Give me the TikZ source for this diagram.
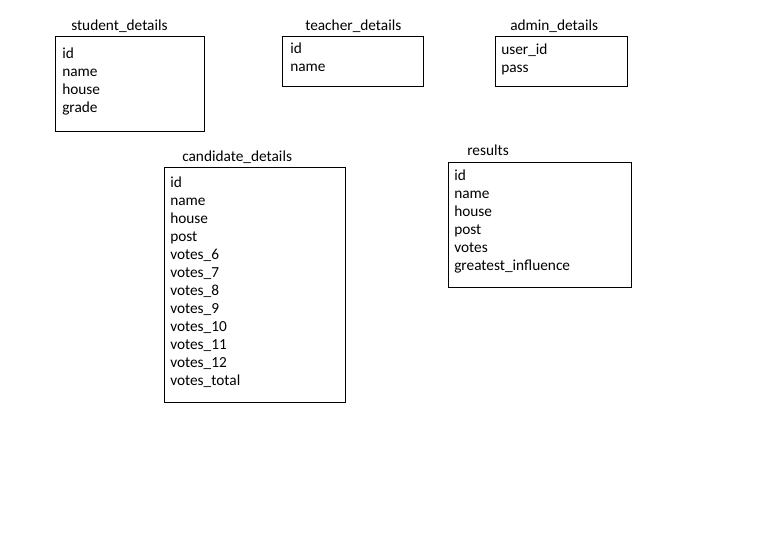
\documentclass[tikz,border=0pt]{standalone}
\usepackage{fontspec}
\setmainfont{Carlito}
\begin{document}
\begin{tikzpicture}[x=0.75pt,y=-0.75pt,
  tablebox/.style={draw=black,line width=0.8pt,rectangle,anchor=north west,inner sep=0pt},
  label/.style={anchor=base west,inner sep=0pt,font=\fontsize{11.5pt}{13pt}\selectfont,text=black}]
\useasboundingbox (0,0) rectangle (781,547);
% tables: frame, title, fields
\node[tablebox,minimum width=149.5*0.75pt,minimum height=95.5*0.75pt] (student) at (54.5,35.7) {};
\node[label] (studentT) at (71,30) {student\_details};
\foreach \t [count=\i] in {id,name,house,grade}
  \node[label] (student\i) at (62,{58+(\i-1)*18}) {\t};

\node[tablebox,minimum width=141*0.75pt,minimum height=50.5*0.75pt] (teacher) at (282,35.7) {};
\node[label] (teacherT) at (305,30) {teacher\_details};
\foreach \t [count=\i] in {id,name}
  \node[label] (teacher\i) at (290,{53+(\i-1)*18}) {\t};

\node[tablebox,minimum width=132.5*0.75pt,minimum height=50.5*0.75pt] (admin) at (494.5,35.7) {};
\node[label] (adminT) at (510,30) {admin\_details};
\foreach \t [count=\i] in {user\_id,pass}
  \node[label] (admin\i) at (501,{54+(\i-1)*18.5}) {\t};

\node[tablebox,minimum width=181.5*0.75pt,minimum height=234.5*0.75pt] (candidate) at (163.5,167) {};
\node[label] (candidateT) at (182,161) {candidate\_details};
\foreach \t [count=\i] in {id,name,house,post,votes\_6,votes\_7,votes\_8,votes\_9,votes\_10,votes\_11,votes\_12,votes\_total}
  \node[label] (candidate\i) at (170,{187+(\i-1)*18}) {\t};

\node[tablebox,minimum width=183*0.75pt,minimum height=125.5*0.75pt] (results) at (447.5,161.5) {};
\node[label] (resultsT) at (467,155) {results};
\foreach \t [count=\i] in {id,name,house,post,votes,greatest\_influence}
  \node[label] (results\i) at (454,{180+(\i-1)*18}) {\t};
\end{tikzpicture}
\end{document}
